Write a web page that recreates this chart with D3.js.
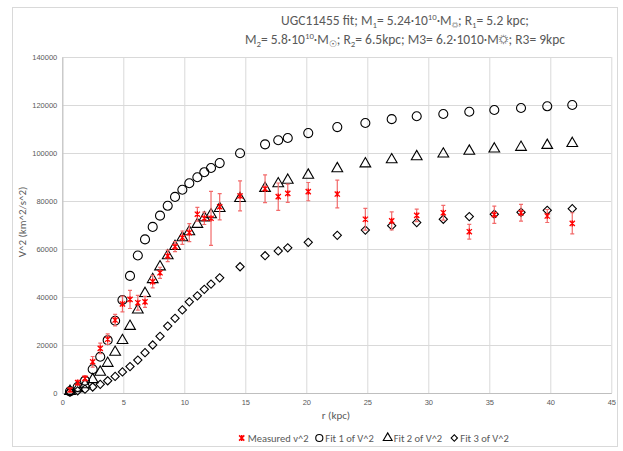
<!DOCTYPE html>
<html><head><meta charset="utf-8">
<script src="https://cdn.jsdelivr.net/npm/d3@7"></script>
<style>
html,body{margin:0;padding:0;background:#fff;}
svg{display:block;font-family:Carlito,Lato,"Liberation Sans",sans-serif;}
</style></head>
<body>
<svg id="c" width="623" height="451"></svg>
<script>
// radius (kpc)
const radius = [0.63,1.26,1.86,2.49,3.11,3.72,4.33,4.93,5.55,6.19,6.78,7.41,8.01,8.64,9.24,9.84,10.41,11.07,11.64,12.19,12.9,
  14.57,16.62,17.70,18.48,20.16,22.54,24.84,27.0,29.05,31.23,33.36,35.41,37.6,39.75,41.8];
const measured = [1250,4300,6100,13000,18600,22400,30400,37100,39000,37600,38000,46400,50100,57100,61000,64700,66800,74500,72800,72800,77600,
  82100,85100,81800,83200,83900,82900,72400,71700,74000,75100,67200,74300,75100,73750,70700];
const measuredErr = [800,1000,1000,2200,2200,2200,2400,3300,3800,3100,2300,2600,2300,2400,2100,2800,3750,2850,2600,11250,5500,
  6250,5800,5700,3800,3800,5800,4500,3750,2600,3100,3100,3600,3500,2700,4400];
const fit1 = [700,2500,5125,9900,15100,22000,30100,38750,48800,57300,64000,69200,73900,78000,81700,84700,87400,89900,92000,93750,95800,
  99900,103600,105300,106250,108300,110800,112500,114100,115300,116250,117200,117900,118750,119460,120000];
const fit2 = [700,1800,3500,5600,8700,12400,17000,21900,27800,34600,41500,47300,52600,57200,61100,64700,67200,70300,73000,74300,76900,
  81100,85300,87200,88700,90800,93500,95500,97200,98500,99600,100800,101700,102400,103200,104000];
const fit3 = [400,900,1600,2500,3600,5100,6900,8800,11000,13700,16800,20000,23600,27900,31100,34600,38000,40500,43200,45400,48000,
  52600,57200,59200,60500,62800,65700,67900,69700,71000,72400,73500,74500,75300,76100,76800];
const xTicks = [0,5,10,15,20,25,30,35,40,45];
const yTicks = [0,20000,40000,60000,80000,100000,120000,140000];
const legendLabels = ["Measured v^2","Fit 1 of V^2","Fit 2 of V^2","Fit 3 of V^2"];
const xTitle = "r (kpc)";
const yTitle = "V^2 (km^2/s^2)";

const svg = d3.select("#c");
const x = d3.scaleLinear().domain([0,45]).range([62.3,611.3]);
const y = d3.scaleLinear().domain([0,140000]).range([393,57]);

// outer border
svg.append("rect").attr("x",12.5).attr("y",7.5).attr("width",605).attr("height",439)
  .attr("fill","#fff").attr("stroke","#d9d9d9").attr("stroke-width",1);

// gridlines
const gx = svg.append("g").attr("transform","translate(0,393)")
  .call(d3.axisBottom(x).tickValues(xTicks).tickSize(-336).tickFormat(""));
gx.select(".domain").remove();
gx.selectAll("line").attr("stroke","#d9d9d9").attr("stroke-width",1);
const gy = svg.append("g").attr("transform","translate(62.3,0)")
  .call(d3.axisLeft(y).tickValues(yTicks).tickSize(-549).tickFormat(""));
gy.select(".domain").remove();
gy.selectAll("line").attr("stroke","#d9d9d9").attr("stroke-width",1);

// axes
const ax = svg.append("g").attr("transform","translate(0,393)")
  .call(d3.axisBottom(x).tickValues(xTicks).tickSize(0).tickPadding(7).tickFormat(d3.format("d")));
ax.select(".domain").attr("stroke","#bfbfbf");
ax.selectAll("text").attr("fill","#595959").attr("font-size",7.5).attr("font-family","inherit");
const ay = svg.append("g").attr("transform","translate(62.3,0)")
  .call(d3.axisLeft(y).tickValues(yTicks).tickSize(0).tickPadding(5).tickFormat(d3.format("d")));
ay.select(".domain").attr("stroke","#bfbfbf");
ay.selectAll("text").attr("fill","#595959").attr("font-size",7.5).attr("font-family","inherit");

// axis titles
svg.append("text").attr("x",336).attr("y",419).attr("text-anchor","middle")
  .attr("font-size",11).attr("fill","#595959").text(xTitle);
svg.append("text").attr("transform","translate(26,222) rotate(-90)").attr("text-anchor","middle")
  .attr("font-size",11).attr("fill","#595959").text(yTitle);

// title
function line(parent, parts){
  let off = 0;
  parts.forEach(([s,k])=>{
    const ts = parent.append("tspan").text(s);
    let target = k==="sub"?3:(k==="sup"?-5:0);
    ts.attr("dy", target-off); off = target;
    if(k) ts.attr("font-size","65%");
  });
}
const t = svg.append("text").attr("text-anchor","middle").attr("font-size",13.5).attr("fill","#595959");
const l1 = t.append("tspan").attr("x",405).attr("y",25);
line(l1,[["UGC11455 fit; M"],["1","sub"],["= 5.24·10"],["10","sup"],["·M"],["☼","sub"],["; R"],["1","sub"],["= 5.2 kpc;"]]);
const t2 = svg.append("text").attr("text-anchor","middle").attr("font-size",13.5).attr("fill","#595959");
const l2 = t2.append("tspan").attr("x",405).attr("y",44);
line(l2,[["M"],["2","sub"],["= 5.8·10"],["10","sup"],["·M"],["☉","sub"],["; R"],["2","sub"],["= 6.5kpc; M3= 6.2·1010·M☼; R3= 9kpc"]]);

// markers
const starPath = s => `M${-s},${-s}L${s},${s}M${-s},${s}L${s},${-s}M0,${-s-0.5}L0,${s+0.5}`;
const circleSym = d3.symbol().type(d3.symbolCircle).size(64);
const triSym = d3.symbol().type(d3.symbolTriangle).size(50);
const diaSym = d3.symbol().type(d3.symbolSquare).size(34);

const rows = radius.map((r,i)=>({r, m:measured[i], e:measuredErr[i], f1:fit1[i], f2:fit2[i], f3:fit3[i]}));

function drawFit(key, sym, rot){
  svg.append("g").selectAll("path").data(rows).join("path")
    .attr("d", sym())
    .attr("transform", d=>`translate(${x(d.r)},${y(d[key])})${rot?" rotate(45)":""}`)
    .attr("fill","none").attr("stroke","#000").attr("stroke-width",1.1);
}
drawFit("f3", diaSym, true);
drawFit("f2", triSym, false);
drawFit("f1", circleSym, false);

// error bars
const eb = svg.append("g").attr("stroke","#f26b6b").attr("stroke-width",1.2).attr("fill","none");
eb.selectAll("path").data(rows).join("path")
  .attr("d", d=>{
    const cx = x(d.r), y1 = y(d.m+d.e), y2 = y(d.m-d.e);
    return `M${cx},${y1}L${cx},${y2}M${cx-2},${y1}L${cx+2},${y1}M${cx-2},${y2}L${cx+2},${y2}`;
  });
svg.append("g").selectAll("path").data(rows).join("path")
  .attr("d", starPath(2.6))
  .attr("transform", d=>`translate(${x(d.r)},${y(d.m)})`)
  .attr("stroke","#ff0000").attr("stroke-width",1.3).attr("fill","none");

// legend
const legX = [241.7, 319.3, 387.7, 454.3];
const legY = 438;
const lg = svg.append("g");
lg.append("path").attr("d",starPath(2.6)).attr("transform",`translate(${legX[0]},${legY})`)
  .attr("stroke","#ff0000").attr("stroke-width",1.5).attr("fill","none");
lg.append("path").attr("d",circleSym.size(40)()).attr("transform",`translate(${legX[1]},${legY})`)
  .attr("stroke","#000").attr("stroke-width",1.1).attr("fill","none");
lg.append("path").attr("d",triSym.size(34)()).attr("transform",`translate(${legX[2]},${legY})`)
  .attr("stroke","#000").attr("stroke-width",1.1).attr("fill","none");
lg.append("path").attr("d",diaSym.size(20)()).attr("transform",`translate(${legX[3]},${legY}) rotate(45)`)
  .attr("stroke","#000").attr("stroke-width",1.1).attr("fill","none");
const lt = lg.selectAll("text").data(legendLabels).join("text")
  .attr("x",(d,i)=>legX[i]+6).attr("y",legY+4).attr("font-size",11).attr("fill","#595959").text(d=>d);
// fit legend font so "Measured v^2" spans ~61px as in the reference
const w0 = lt.node().getComputedTextLength();
if (w0 > 0) lt.attr("font-size", Math.min(11, 11*61/w0));
</script>
</body></html>
